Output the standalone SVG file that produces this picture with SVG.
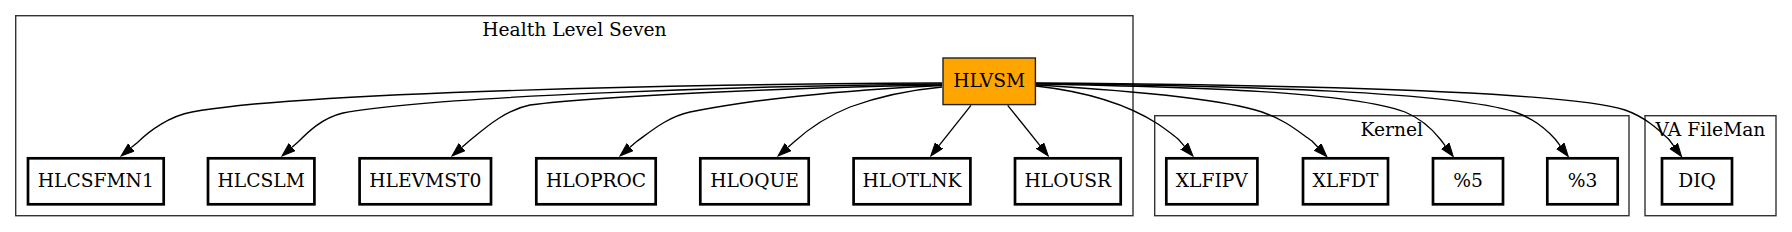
<svg xmlns="http://www.w3.org/2000/svg" width="1792" height="232" viewBox="0 0 1792 232">
<style>
.cl{fill:none;stroke:#333;stroke-width:1.4}
.nd{fill:#fff;stroke:#000;stroke-width:2.7}
.hl{fill:#ffa500;stroke:#222;stroke-width:1.4}
text{font-family:"DejaVu Serif",serif;font-size:18.67px;fill:#000;text-anchor:middle}
.e{fill:none;stroke:#000;stroke-width:1.33}
</style>
<defs>
<marker id="ar" markerUnits="userSpaceOnUse" markerWidth="15" markerHeight="11" refX="0" refY="5" orient="auto" viewBox="0 0 15 11">
<path d="M0,0.3 L13.3,5 L0,9.7 z" fill="#000" stroke="#000" stroke-width="1"/>
</marker>
</defs>
<rect width="1792" height="232" fill="#fff"/>
<g id="cluster_hl7">
<rect class="cl" x="15.7" y="15.7" width="1117.3" height="200"/>
<text x="574.4" y="35.7">Health Level Seven</text>
</g>
<g id="cluster_kernel">
<rect class="cl" x="1154.7" y="115.7" width="474.3" height="100"/>
<text x="1391.8" y="136">Kernel</text>
</g>
<g id="cluster_fileman">
<rect class="cl" x="1645" y="115.7" width="131" height="100"/>
<text x="1710.5" y="136">VA FileMan</text>
</g>
<g id="connectors">
<path class="e" marker-end="url(#ar)" d="M942,83 C700,84 300,92 192,112 C170,116 150,130 137.5,142.5 L131.3,147.6"/>
<path class="e" marker-end="url(#ar)" d="M942,84 C750,86 430,96 343,113 C322,118 308,132 298,142 L292,147.2"/>
<path class="e" marker-end="url(#ar)" d="M942,85 C780,88 600,96 530,105 C505,110 485,128 468,142 L462,147.2"/>
<path class="e" marker-end="url(#ar)" d="M942,85.5 C850,90 760,98 690,112 C667,117 650,132 636,142 L630,147.2"/>
<path class="e" marker-end="url(#ar)" d="M942,87 C910,90 880,96 850,107 C825,117 805,132 794,142 L788,147.2"/>
<path class="e" marker-end="url(#ar)" d="M971,105.3 L939,145.6"/>
<path class="e" marker-end="url(#ar)" d="M1007.7,105.3 L1040,145.6"/>
<path class="e" marker-end="url(#ar)" d="M1036,86 C1090,92 1130,106 1158,124 C1168,131 1175,136 1179,140 L1184.3,146.1"/>
<path class="e" marker-end="url(#ar)" d="M1036,85 C1120,90 1220,98 1262,112 C1286,120 1300,133 1312,141 L1317.7,147"/>
<path class="e" marker-end="url(#ar)" d="M1036,84 C1200,87 1350,92 1405,112 C1422,119 1433,130 1440.5,139.5 L1445.3,145.9"/>
<path class="e" marker-end="url(#ar)" d="M1036,83.5 C1250,86 1450,92 1515,112 C1535,119 1547,130 1555.5,139.5 L1560.3,145.9"/>
<path class="e" marker-end="url(#ar)" d="M1036,83 C1300,85 1570,92 1625,110 C1645,117 1658,129 1669,139.5 L1673.7,145.9"/>
</g>
<g id="HLVSM">
<rect class="hl" x="943" y="58" width="92.4" height="46.6"/>
<text x="989.2" y="86.6">HLVSM</text>
</g>
<g id="HLCSFMN1">
<rect class="nd" x="28" y="158.3" width="135.7" height="46"/>
<text x="95.8" y="186.8">HLCSFMN1</text>
</g>
<g id="HLCSLM">
<rect class="nd" x="208" y="158.3" width="106.4" height="46"/>
<text x="261.2" y="186.8">HLCSLM</text>
</g>
<g id="HLEVMST0">
<rect class="nd" x="359.6" y="158.3" width="131.4" height="46"/>
<text x="425.3" y="186.8">HLEVMST0</text>
</g>
<g id="HLOPROC">
<rect class="nd" x="536.3" y="158.3" width="119.4" height="46"/>
<text x="596" y="186.8">HLOPROC</text>
</g>
<g id="HLOQUE">
<rect class="nd" x="700.3" y="158.3" width="108.4" height="46"/>
<text x="754.5" y="186.8">HLOQUE</text>
</g>
<g id="HLOTLNK">
<rect class="nd" x="853.6" y="158.3" width="116.8" height="46"/>
<text x="912" y="186.8">HLOTLNK</text>
</g>
<g id="HLOUSR">
<rect class="nd" x="1015" y="158.3" width="105.7" height="46"/>
<text x="1067.8" y="186.8">HLOUSR</text>
</g>
<g id="XLFIPV">
<rect class="nd" x="1166.3" y="158.3" width="91.1" height="46"/>
<text x="1211.8" y="186.8">XLFIPV</text>
</g>
<g id="XLFDT">
<rect class="nd" x="1303" y="158.3" width="85" height="46"/>
<text x="1345.5" y="186.8">XLFDT</text>
</g>
<g id="pct5">
<rect class="nd" x="1433" y="158.3" width="70" height="46"/>
<text x="1468" y="186.8">%5</text>
</g>
<g id="pct3">
<rect class="nd" x="1547.3" y="158.3" width="70.4" height="46"/>
<text x="1582.5" y="186.8">%3</text>
</g>
<g id="DIQ">
<rect class="nd" x="1662" y="158.3" width="70" height="46"/>
<text x="1697" y="186.8">DIQ</text>
</g>
</svg>
